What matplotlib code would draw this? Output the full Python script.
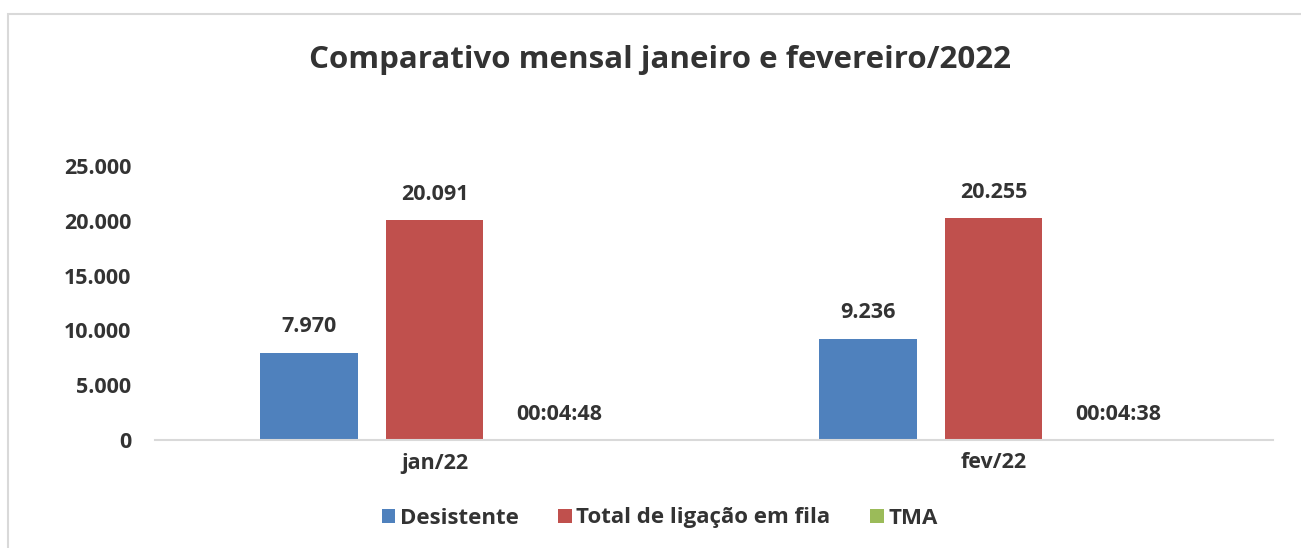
import matplotlib.pyplot as plt
import numpy as np
from matplotlib.patches import Rectangle

# Data
categories = ['jan/22', 'fev/22']
desistente = [7970, 9236]
total_fila = [20091, 20255]
tma_seconds = [288, 278]  # 00:04:48, 00:04:38

series_names = ['Desistente', 'Total de ligação em fila', 'TMA']
colors = ['#4F81BD', '#C0504D', '#9BBB59']
yticks = [0, 5000, 10000, 15000, 20000, 25000]

plt.rcParams['font.family'] = ['Open Sans', 'DejaVu Sans']
text_color = '#333333'


def fmt_thousands(v):
    return f'{int(v):,}'.replace(',', '.')


def fmt_time(s):
    return f'{s // 3600:02d}:{(s % 3600) // 60:02d}:{s % 60:02d}'


fig = plt.figure(figsize=(13.01, 5.48), dpi=100)
ax = fig.add_axes([155 / 1301, 1 - 440 / 548, (1273 - 155) / 1301, 274 / 548])

# chart area border
fig.patches.append(Rectangle((8 / 1301, -0.1), 1.2, 1 - 14 / 548 + 0.1,
                             transform=fig.transFigure, fill=False,
                             edgecolor='#D9D9D9', linewidth=1.5))

x = np.arange(len(categories))
w = 0.175
step = 0.224

tma_days = [s / 86400 for s in tma_seconds]
values = [desistente, total_fila, tma_days]

for i, (vals, name, c) in enumerate(zip(values, series_names, colors)):
    pos = x + (i - 1) * step
    ax.bar(pos, vals, width=w, color=c, label=name)
    for k, (p, v) in enumerate(zip(pos, vals)):
        if i == 2:
            lab = fmt_time(tma_seconds[k])
        else:
            lab = fmt_thousands(v)
        ax.annotate(lab, (p, v), xytext=(0, 11), textcoords='offset points',
                    ha='center', va='bottom', fontsize=15.5, fontweight='bold',
                    color=text_color)

ax.set_xlim(-0.5, 1.5)
ax.set_ylim(0, 25000)
ax.set_yticks(yticks)
ax.set_yticklabels([fmt_thousands(t) for t in yticks])
ax.set_xticks(x)
ax.set_xticklabels(categories)

for s in ['top', 'right', 'left']:
    ax.spines[s].set_visible(False)
ax.spines['bottom'].set_color('#D9D9D9')
ax.spines['bottom'].set_linewidth(1.5)
ax.tick_params(axis='both', length=0, labelsize=15.5, colors=text_color)
ax.tick_params(axis='y', pad=17)
ax.tick_params(axis='x', pad=9)
for t in ax.get_xticklabels() + ax.get_yticklabels():
    t.set_fontweight('bold')

fig.text(0.507, 1 - 60 / 548, 'Comparativo mensal janeiro e fevereiro/2022',
         ha='center', va='center', fontsize=22.5, fontweight='bold',
         color=text_color)

leg = fig.legend(loc='center', bbox_to_anchor=(0.507, 1 - 518 / 548), ncol=3,
                 frameon=False, fontsize=16, handlelength=0.6, handleheight=0.6,
                 handletextpad=0.2, columnspacing=1.8)
for t in leg.get_texts():
    t.set_fontweight('bold')
    t.set_color(text_color)

fig.savefig('out.png', dpi=100)
